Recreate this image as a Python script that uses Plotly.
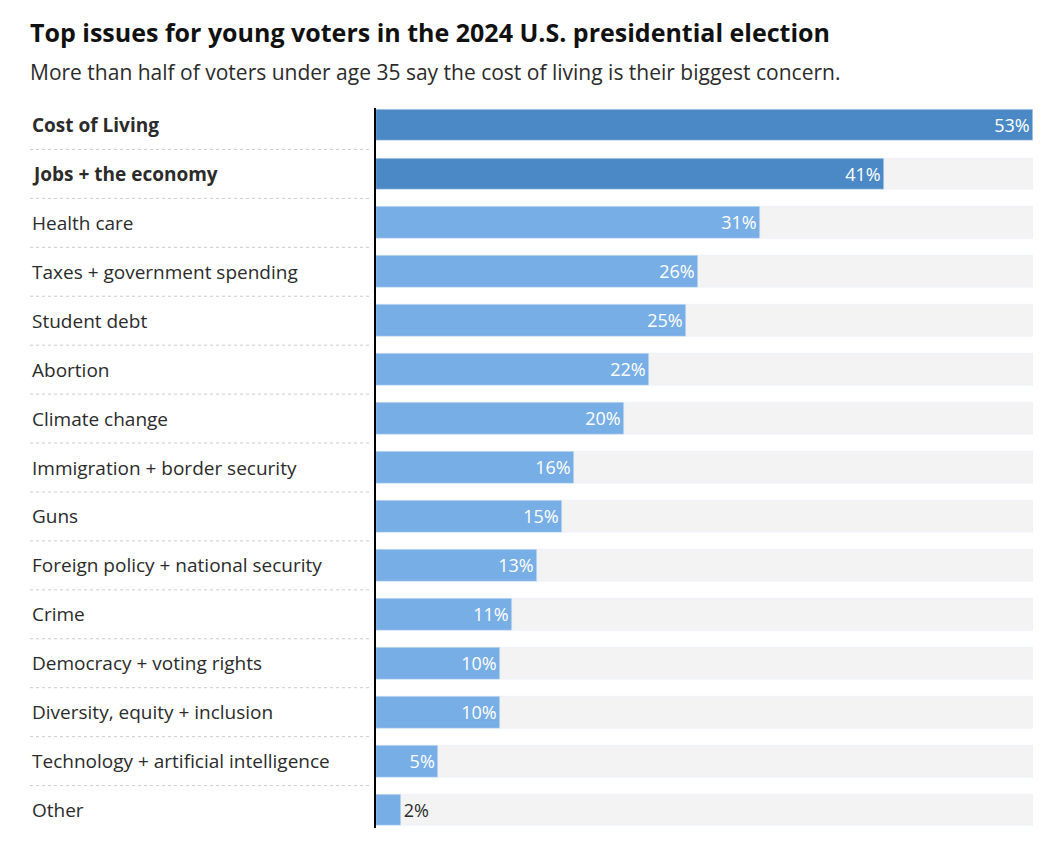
import plotly.graph_objects as go

categories = ["Cost of Living","Jobs + the economy","Health care","Taxes + government spending",
 "Student debt","Abortion","Climate change","Immigration + border security","Guns",
 "Foreign policy + national security","Crime","Democracy + voting rights",
 "Diversity, equity + inclusion","Technology + artificial intelligence","Other"]
values = [53,41,31,26,25,22,20,16,15,13,11,10,10,5,2]
highlight = [True,True]+[False]*13

W,H=1064,858
O=8  # page body offset
n=len(categories)
top_px,bot_px=100.5-O,834.5-O
row=(bot_px-top_px)/n
DARK="#4a89c5"; LIGHT="#78aee6"; TXT="#2b2b2b"
FONT="Open Sans"

fig=go.Figure()
fig.add_trace(go.Bar(y=categories,x=[53]*n,orientation="h",marker_color="#f3f3f3",
    width=0.65,hoverinfo="skip",showlegend=False))
fig.add_trace(go.Bar(y=categories,x=values,orientation="h",
    marker_color=[DARK if h else LIGHT for h in highlight],width=0.65,
    text=[f"{v}%" for v in values],
    textposition=["inside" if v>3 else "outside" for v in values],
    insidetextanchor="end",
    textfont=dict(family=FONT,size=18),
    insidetextfont=dict(color="white",family=FONT,size=18),
    outsidetextfont=dict(color=TXT,family=FONT,size=18),
    cliponaxis=False,showlegend=False))

ann=[]
shapes=[]
for i,(c,h) in enumerate(zip(categories,highlight)):
    yc=top_px+row*(i+0.5)
    ann.append(dict(xref="paper",yref="paper",x=(30-O)/W,y=1-yc/H,xanchor="left",yanchor="middle",
        text=f"<b>{c}</b>" if h else c,showarrow=False,font=dict(family=FONT,size=19,color=TXT)))
    if i<n-1:
        yb=1-(top_px+row*(i+1))/H
        shapes.append(dict(type="line",xref="paper",yref="paper",x0=(30-O)/W,x1=(370-O)/W,y0=yb,y1=yb,
            line=dict(color="#cccccc",width=1,dash="dot")))
shapes.append(dict(type="line",xref="paper",yref="paper",x0=(375-O)/W,x1=(375-O)/W,
    y0=1-(108-O)/H,y1=1-(828-O)/H,line=dict(color="black",width=2)))
ann.append(dict(xref="paper",yref="paper",x=(28-O)/W,y=1-(32-O)/H,xanchor="left",yanchor="middle",
    text="<b>Top issues for young voters in the 2024 U.S. presidential election</b>",
    showarrow=False,font=dict(family=FONT,size=25,color="#111")))
ann.append(dict(xref="paper",yref="paper",x=(28-O)/W,y=1-(72-O)/H,xanchor="left",yanchor="middle",
    text="More than half of voters under age 35 say the cost of living is their biggest concern.",
    showarrow=False,font=dict(family=FONT,size=21,color=TXT)))

fig.update_layout(width=W,height=H,margin=dict(l=0,r=0,t=0,b=0),
    plot_bgcolor="white",paper_bgcolor="white",barmode="overlay",bargap=0,
    xaxis=dict(domain=[(376-O)/W,(1033-O)/W],range=[0,53],visible=False,fixedrange=True),
    yaxis=dict(domain=[1-bot_px/H,1-top_px/H],autorange="reversed",visible=False,
        categoryorder="array",categoryarray=categories),
    annotations=ann,shapes=shapes)
fig.write_html("out.html")
